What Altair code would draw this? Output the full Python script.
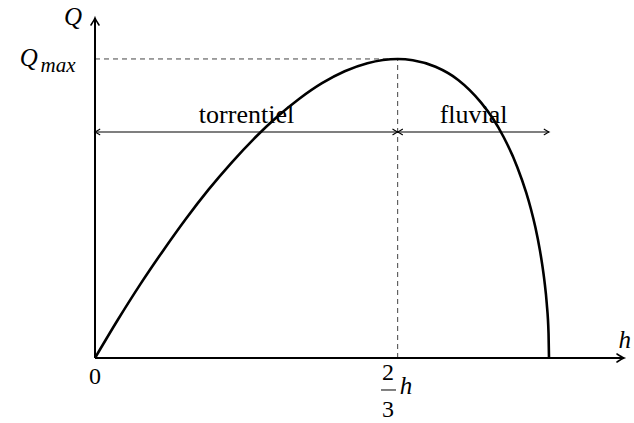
import altair as alt
import pandas as pd

# Discharge through a section as a function of depth h (fixed specific energy),
# normalised so that the curve ends at h = 1 and peaks at Q = 1.
curve_h = [0, 0.05, 0.1, 0.15, 0.2, 0.25, 0.3, 0.35, 0.4, 0.45, 0.5, 0.55, 0.6,
           0.6667, 0.7, 0.75, 0.8, 0.85, 0.875, 0.9, 0.93, 0.95, 0.96, 0.97,
           0.98, 0.985, 0.99, 0.995, 0.999, 1.0]
curve_q = [0, 0.127, 0.247, 0.359, 0.465, 0.563, 0.652, 0.733, 0.805, 0.867,
           0.919, 0.959, 0.986, 1.0, 0.996, 0.974, 0.930, 0.855, 0.804, 0.739,
           0.639, 0.552, 0.499, 0.437, 0.360, 0.313, 0.257, 0.183, 0.082, 0.0]

h_crit = 2 / 3      # critical depth
q_max = 1.0         # maximum discharge
h_end = 1.0         # depth where the discharge vanishes
q_regime = 0.756    # height of the regime arrows
regimes = ["torrentiel", "fluvial"]

X_MAX = 1.1652
Y_MAX = 1.137
W, H = 529, 340

xs = alt.Scale(domain=[0, X_MAX], nice=False, zero=False)
ys = alt.Scale(domain=[0, Y_MAX], nice=False, zero=False)


def X(field="h"):
    return alt.X(f"{field}:Q", scale=xs, axis=None)


def Y(field="q"):
    return alt.Y(f"{field}:Q", scale=ys, axis=None)


# custom open arrowhead, tip at the symbol origin, pointing right
ARROW = "M-1.75,-1Q-0.5,-0.2,0,0Q-0.5,0.2,-1.75,1"

# dashed guides to Q_max and the critical depth
guides = pd.DataFrame({
    "h": [0, h_crit], "q": [q_max, 0],
    "h2": [h_crit, h_crit], "q2": [q_max, q_max],
})
guide_layer = alt.Chart(guides).mark_rule(
    color="#444444", strokeWidth=1, strokeDash=[5, 4]
).encode(x=X(), y=Y(), x2="h2:Q", y2="q2:Q")

# axes
axes = pd.DataFrame({
    "h": [0, 0], "q": [0, 0], "h2": [X_MAX, 0], "q2": [0, Y_MAX],
})
axis_layer = alt.Chart(axes).mark_rule(color="black", strokeWidth=2).encode(
    x=X(), y=Y(), x2="h2:Q", y2="q2:Q"
)
axis_heads = pd.DataFrame({
    "h": [X_MAX, 0], "q": [0, Y_MAX], "angle": [0, 270],
})
axis_head_layer = alt.Chart(axis_heads).mark_point(
    shape=ARROW, size=64, filled=False, stroke="black", strokeWidth=1.6,
    strokeCap="round", opacity=1
).encode(x=X(), y=Y(), angle=alt.Angle("angle:Q", scale=None))

# regime double arrows
spans = pd.DataFrame({
    "h": [0, h_crit], "h2": [h_crit, h_end], "q": [q_regime, q_regime],
})
span_layer = alt.Chart(spans).mark_rule(color="black", strokeWidth=1.1).encode(
    x=X(), x2="h2:Q", y=Y()
)
span_heads = pd.DataFrame({
    "h": [0, h_crit, h_crit, h_end],
    "q": [q_regime] * 4,
    "angle": [180, 0, 180, 0],
})
span_head_layer = alt.Chart(span_heads).mark_point(
    shape=ARROW, size=30, filled=False, stroke="black", strokeWidth=1.1,
    strokeCap="round", opacity=1
).encode(x=X(), y=Y(), angle=alt.Angle("angle:Q", scale=None))

# the discharge curve
curve = pd.DataFrame({"h": curve_h, "q": curve_q})
curve_layer = alt.Chart(curve).mark_line(
    color="black", strokeWidth=2.6, interpolate="monotone"
).encode(x=X(), y=Y())

# fraction bar of 2/3
bar = pd.DataFrame({"h": [0.630], "h2": [0.663], "q": [-0.107]})
bar_layer = alt.Chart(bar).mark_rule(color="black", strokeWidth=1).encode(
    x=X(), x2="h2:Q", y=Y()
)

SERIF = "Liberation Serif"

roman = pd.DataFrame({
    "label": regimes,
    "h": [0.3337, 0.834],
    "q": [0.786, 0.786],
})
roman_layer = alt.Chart(roman).mark_text(
    font=SERIF, fontSize=26, baseline="alphabetic", align="center", color="black"
).encode(x=X(), y=Y(), text="label:N")

digits = pd.DataFrame({
    "label": ["0", "2", "3"],
    "h": [0.0, 0.6454, 0.6454],
    "q": [-0.087, -0.0736, -0.1973],
})
digit_layer = alt.Chart(digits).mark_text(
    font=SERIF, fontSize=24, baseline="alphabetic", align="center", color="black"
).encode(x=X(), y=Y(), text="label:N")

italic = pd.DataFrame({
    "label": ["Q", "Q", "h", "h"],
    "h": [-0.0485, -0.146, 0.685, 1.167],
    "q": [1.1137, 0.9766, -0.1204, 0.0334],
})
italic_layer = alt.Chart(italic).mark_text(
    font=SERIF, fontSize=25, fontStyle="italic", baseline="alphabetic",
    align="center", color="black"
).encode(x=X(), y=Y(), text="label:N")

sub = pd.DataFrame({"label": ["max"], "h": [-0.0815], "q": [0.9565]})
sub_layer = alt.Chart(sub).mark_text(
    font=SERIF, fontSize=21, fontStyle="italic", baseline="alphabetic",
    align="center", color="black"
).encode(x=X(), y=Y(), text="label:N")

chart = alt.layer(
    guide_layer, axis_layer, axis_head_layer, span_layer, span_head_layer,
    curve_layer, bar_layer, roman_layer, digit_layer, italic_layer, sub_layer
).properties(
    width=W, height=H,
    autosize=alt.AutoSizeParams(type="none"),
    padding={"left": 95, "top": 18, "right": 10, "bottom": 65},
    background="white",
).configure_view(stroke=None)

chart.save("out.html", embed_options={"renderer": "svg", "actions": False})
